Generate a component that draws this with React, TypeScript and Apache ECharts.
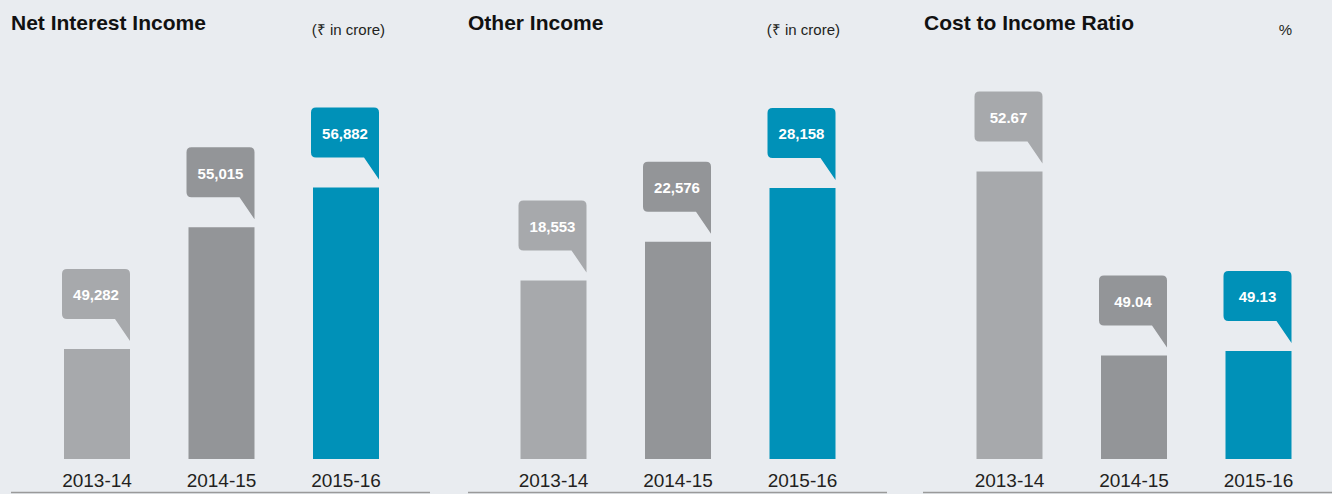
import React, { useEffect, useRef } from "react";
import * as echarts from "echarts";

const categories = ["2013-14", "2014-15", "2015-16"];
const netInterestIncome = [49282, 55015, 56882];
const otherIncome = [18553, 22576, 28158];
const costToIncome = [52.67, 49.04, 49.13];
const panelTitles = ["Net Interest Income", "Other Income", "Cost to Income Ratio"];
const panelUnits = ["(₹ in crore)", "(₹ in crore)", "%"];
const barColors = ["#a7a9ac", "#939598", "#0091b8"];

const FONT = "'Liberation Sans', Arial, Helvetica, sans-serif";

function calloutSeries(idx: number, values: number[], fmt: (v: number) => string) {
  return {
    type: "custom",
    xAxisIndex: idx,
    yAxisIndex: idx,
    clip: false,
    silent: true,
    z: 5,
    data: values.map((v, i) => [i, v]),
    renderItem: (params: any, api: any) => {
      const i = api.value(0);
      const v = api.value(1);
      const pt = api.coord([i, v]);
      const bw = 66;
      const x1 = pt[0] + bw / 2;
      const x0 = pt[0] - bw / 2 - 2;
      const top = pt[1];
      const bT = top - 80;
      const bB = top - 30;
      const tip = top - 8;
      const r = 5;
      const d =
        `M${x0 + r} ${bT} L${x1 - r} ${bT} Q${x1} ${bT} ${x1} ${bT + r} ` +
        `L${x1} ${tip} L${x1 - 15} ${bB} L${x0 + r} ${bB} Q${x0} ${bB} ${x0} ${bB - r} ` +
        `L${x0} ${bT + r} Q${x0} ${bT} ${x0 + r} ${bT} Z`;
      return {
        type: "group",
        children: [
          { type: "path", shape: { pathData: d }, style: { fill: barColors[i] } },
          {
            type: "text",
            style: {
              text: fmt(v),
              x: (x0 + x1) / 2,
              y: (bT + bB) / 2 + 1,
              align: "center",
              verticalAlign: "middle",
              fill: "#ffffff",
              font: `bold 15px ${FONT}`,
            },
          },
        ],
      };
    },
  };
}

export default function App() {
  const ref = useRef<HTMLDivElement>(null);
  useEffect(() => {
    if (!ref.current) return;
    const chart = echarts.init(ref.current, null, { renderer: "svg" });
    const centers = [221.5, 678, 1134];
    const bandW = 124.5;
    const gridW = bandW * 3;
    const yRanges = [
      { min: 44100, max: 61000 },
      { min: 0, max: 37300 },
      { min: 47, max: 54.08 },
    ];
    const allData = [netInterestIncome, otherIncome, costToIncome];
    const fmts = [
      (v: number) => v.toLocaleString("en-US"),
      (v: number) => v.toLocaleString("en-US"),
      (v: number) => v.toFixed(2),
    ];
    const titleX = [11, 468, 924];
    const unitRight = [385, 840, 1292];
    const lineSpans = [
      [11, 430],
      [468, 887],
      [923, 1332],
    ];
    const graphic: any[] = [];
    for (let p = 0; p < 3; p++) {
      graphic.push({
        type: "text",
        left: titleX[p],
        top: 12,
        style: { text: panelTitles[p], font: `bold 21px ${FONT}`, fill: "#111111" },
      });
      graphic.push({
        type: "text",
        right: 1332 - unitRight[p],
        top: 22,
        style: { text: panelUnits[p], font: `15px ${FONT}`, fill: "#231f20" },
      });
      graphic.push({
        type: "line",
        shape: { x1: lineSpans[p][0], y1: 492.5, x2: lineSpans[p][1], y2: 492.5 },
        style: { stroke: "#9a9a9a", lineWidth: 1.5 },
      });
    }
    chart.setOption({
      animation: false,
      backgroundColor: "#e9ecf0",
      grid: centers.map((c) => ({
        left: c - gridW / 2,
        width: gridW,
        top: 100,
        bottom: 35,
        containLabel: false,
      })),
      xAxis: centers.map((_, p) => ({
        type: "category",
        gridIndex: p,
        data: categories,
        axisLine: { show: false },
        axisTick: { show: false },
        axisLabel: { margin: 12, fontSize: 19, color: "#231f20", fontFamily: FONT },
      })),
      yAxis: yRanges.map((r, p) => ({
        type: "value",
        gridIndex: p,
        min: r.min,
        max: r.max,
        show: false,
        splitLine: { show: false },
      })),
      series: [
        ...allData.map((d, p) => ({
          type: "bar",
          xAxisIndex: p,
          yAxisIndex: p,
          barWidth: 66,
          data: d.map((v, i) => ({ value: v, itemStyle: { color: barColors[i] } })),
        })),
        ...allData.map((d, p) => calloutSeries(p, d, fmts[p])),
      ],
      graphic,
    });
    return () => chart.dispose();
  }, []);
  return (
    <div
      ref={ref}
      style={{ position: "fixed", left: 0, top: 0, width: 1332, height: 494 }}
    />
  );
}
